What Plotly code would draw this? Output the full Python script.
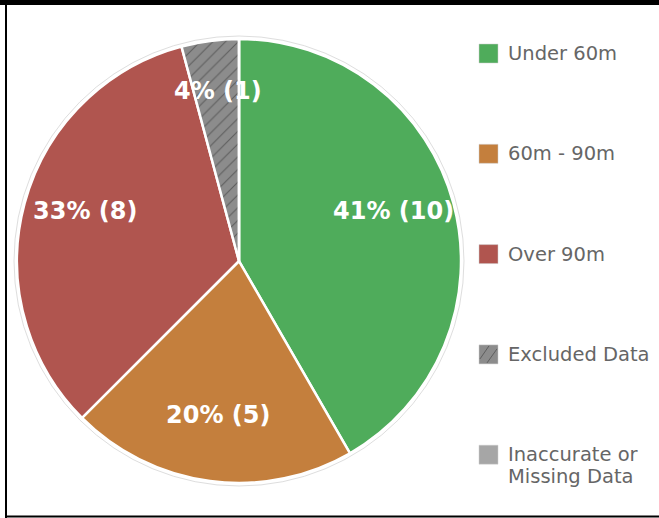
import math
import plotly.graph_objects as go

labels = ["Under 60m", "60m - 90m", "Over 90m", "Excluded Data", "Inaccurate or<br>Missing Data"]
values = [10, 5, 8, 1, 0]
colors = ["#4fac5b", "#c47f3d", "#b0554f", "#8c8c8c", "#a6a6a6"]
patterns = ["", "", "", "/", ""]

W, H = 659, 518
cx, cy, R = 239, 261, 222

fig = go.Figure(go.Pie(
    labels=labels, values=values, sort=False, direction="clockwise", rotation=0,
    marker=dict(colors=colors, line=dict(color="white", width=2.5),
                pattern=dict(shape=patterns, fgcolor="#5e5e5e", bgcolor=colors,
                             size=9, solidity=0.12)),
    textinfo="none", showlegend=False, hoverinfo="skip",
    domain=dict(x=[(cx - R) / W, (cx + R) / W], y=[(H - cy - R) / H, (H - cy + R) / H]),
))

total = sum(values)
annotations = []
shapes = []

# slice labels
cum = 0
for v in values:
    if v > 0:
        mid = (cum + v / 2) / total
        th = 2 * math.pi * mid
        px = cx + 0.72 * R * math.sin(th)
        py = cy - 0.737 * R * math.cos(th) - 8
        pct = int(v / total * 100)
        annotations.append(dict(x=px / W, y=1 - py / H, xref="paper", yref="paper",
                                text=f"<b>{pct}% ({v})</b>", showarrow=False,
                                font=dict(family="DejaVu Sans", size=24, color="white"),
                                xanchor="center", yanchor="middle"))
    cum += v

# faint outer ring
shapes.append(dict(type="circle", xref="paper", yref="paper",
                   x0=(cx - R - 3) / W, x1=(cx + R + 3) / W,
                   y0=1 - (cy + R + 3) / H, y1=1 - (cy - R - 3) / H,
                   line=dict(color="#dedede", width=1), layer="below"))

# legend
lx0, lsize, ly0, lgap, lineh = 479, 19, 44, 100.3, 21.5
for i, (lab, col) in enumerate(zip(labels, colors)):
    top = ly0 + i * lgap
    shapes.append(dict(type="rect", xref="paper", yref="paper",
                       x0=lx0 / W, x1=(lx0 + lsize) / W,
                       y0=1 - (top + lsize) / H, y1=1 - top / H,
                       fillcolor=col, line=dict(color="#cfcfcf", width=0.5)))
    if patterns[i] == "/":
        for (ax, ay, bx, by) in [(1, 14, 10, 1), (8, 18, 18, 4)]:
            shapes.append(dict(type="line", xref="paper", yref="paper",
                               x0=(lx0 + ax) / W, y0=1 - (top + ay) / H,
                               x1=(lx0 + bx) / W, y1=1 - (top + by) / H,
                               line=dict(color="#5e5e5e", width=1)))
    for j, line in enumerate(lab.split("<br>")):
        annotations.append(dict(x=(lx0 + lsize + 8) / W, y=1 - (top + lsize / 2 + j * lineh) / H,
                                xref="paper", yref="paper", text=line, showarrow=False,
                                align="left", xanchor="left", yanchor="middle",
                                font=dict(family="DejaVu Sans", size=19.5, color="#666666")))

# frame
shapes += [
    dict(type="rect", xref="paper", yref="paper", x0=0, x1=1, y0=1 - 5 / H, y1=1,
         fillcolor="black", line=dict(width=0)),
    dict(type="rect", xref="paper", yref="paper", x0=5 / W, x1=7 / W, y0=0, y1=1,
         fillcolor="black", line=dict(width=0)),
    dict(type="rect", xref="paper", yref="paper", x0=5 / W, x1=1, y0=0.5 / H, y1=2.5 / H,
         fillcolor="black", line=dict(width=0)),
]

fig.update_layout(width=W, height=H, autosize=False,
                  margin=dict(l=0, r=0, t=0, b=0),
                  paper_bgcolor="white", plot_bgcolor="white",
                  shapes=shapes, annotations=annotations)

fig.write_html("out.html", config={"displayModeBar": False},
               post_script="document.body.style.margin='0';document.body.style.padding='0';")
